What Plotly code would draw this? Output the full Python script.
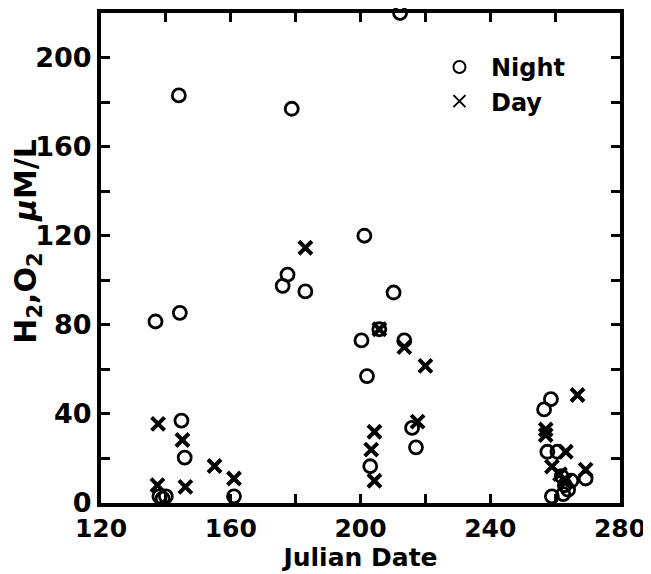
import plotly.graph_objects as go

night_x = [136.8, 144.0, 144.3, 144.8, 145.8, 138.0, 139.0, 140.0, 161.0, 176.0,
           177.5, 178.8, 183.0, 200.3, 201.2, 202.0, 203.0, 205.8, 210.2, 212.2,
           213.5, 215.9, 217.1, 256.6, 258.7, 257.6, 260.7, 259.0, 262.0, 263.0,
           264.0, 262.5, 265.0, 269.4]
night_y = [81.5, 183.0, 85.4, 37.0, 20.4, 3.0, 2.0, 3.0, 3.0, 97.5,
           102.5, 177.0, 95.0, 73.0, 120.0, 57.0, 16.5, 78.0, 94.5, 220.0,
           73.0, 33.7, 25.0, 42.0, 46.6, 23.0, 23.0, 3.0, 12.0, 8.0,
           6.0, 4.0, 10.0, 11.0]

day_x = [137.6, 137.4, 145.1, 146.0, 155.0, 161.0, 183.0, 203.3, 204.3, 204.3,
         205.8, 213.5, 217.6, 220.0, 257.1, 257.1, 259.0, 263.3, 266.9, 269.4,
         261.5, 263.0]
day_y = [35.5, 8.0, 28.3, 7.2, 16.6, 11.0, 114.6, 24.0, 32.0, 10.0,
         78.0, 70.0, 36.5, 61.6, 33.0, 30.5, 16.3, 23.0, 48.5, 15.0,
         13.0, 10.0]

x_ticks = [120, 160, 200, 240, 280]
y_ticks = [0, 40, 80, 120, 160, 200]

FONT = "DejaVu Sans"

fig = go.Figure()
fig.add_trace(go.Scatter(
    x=night_x, y=night_y, mode="markers", name="Night", cliponaxis=False,
    marker=dict(symbol="circle-open", size=13, color="black", line=dict(width=2.8, color="black")),
))
fig.add_trace(go.Scatter(
    x=day_x, y=day_y, mode="markers", name="Day", cliponaxis=False,
    marker=dict(symbol="x-thin-open", size=13, color="black", line=dict(width=4, color="black")),
))

axis_common = dict(
    showline=True, linewidth=4, linecolor="black", mirror="ticks",
    ticks="inside", ticklen=9, tickwidth=3, tickcolor="black",
    showgrid=False, zeroline=False, automargin=False,
)

fig.update_xaxes(
    range=[120, 280], tickvals=x_ticks, ticktext=[str(v) for v in x_ticks],
    tickfont=dict(family=FONT, size=25, color="black", weight="bold"),
    minor=dict(dtick=20, tick0=120, ticks="inside", ticklen=9, tickwidth=3, tickcolor="black"),
    title=dict(text="Julian Date", font=dict(family=FONT, size=25, color="black", weight="bold"), standoff=2),
    **axis_common,
)
fig.update_yaxes(
    range=[0, 220], tickvals=y_ticks, ticktext=[str(v) for v in y_ticks],
    tickfont=dict(family=FONT, size=27, color="black", weight="bold"),
    minor=dict(dtick=20, tick0=0, ticks="inside", ticklen=9, tickwidth=3, tickcolor="black"),
    **axis_common,
)

# page body has an 8px default margin; figure is sized so plot area lands where the reference has it
fig.update_layout(
    width=643, height=566,
    margin=dict(l=93, r=31, t=5, b=71),
    plot_bgcolor="white", paper_bgcolor="white",
    showlegend=True,
    legend=dict(x=0.63, y=0.935, xanchor="left", yanchor="top", itemwidth=53,
                bgcolor="rgba(0,0,0,0)", tracegroupgap=0, itemsizing="constant",
                font=dict(family=FONT, size=24, color="black", weight="bold")),
    annotations=[dict(
        text="H<sub>2</sub>,O<sub>2</sub>   <i>µ</i>M/L", textangle=-90,
        xref="paper", yref="paper", x=-0.141, y=0.535, xanchor="center", yanchor="middle",
        showarrow=False, font=dict(family=FONT, size=30, color="black", weight="bold"),
    )],
)

fig.write_html("out.html")
